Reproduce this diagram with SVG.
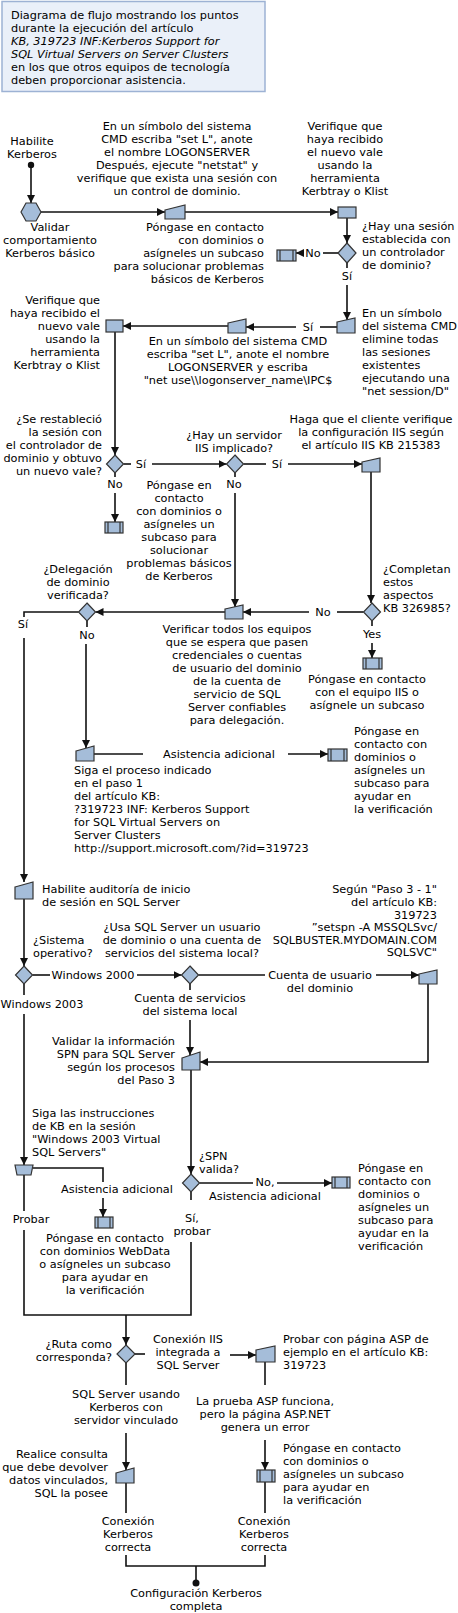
<svg xmlns="http://www.w3.org/2000/svg" width="458" height="1613" viewBox="0 0 458 1613">
<style>
text{font-family:"DejaVu Sans",Verdana,sans-serif;font-size:11.3px;fill:#000}
.c{text-anchor:middle}
.e{text-anchor:end}
.i{font-style:italic}
.s{fill:#a5bdd9;stroke:#333;stroke-width:1.2}
.l{fill:none;stroke:#111;stroke-width:1.6}
.a{marker-end:url(#ah)}
.in{stroke:#333;stroke-width:1.2}
</style>
<defs>
<marker id="ah" markerUnits="userSpaceOnUse" markerWidth="9" markerHeight="8" refX="8" refY="4" orient="auto"><path d="M0,0 L8,4 L0,8 z" fill="#111"/></marker>
</defs>
<rect x="0" y="0" width="458" height="1613" fill="#fff"/>
<g id="title">
<rect x="2" y="1.5" width="263" height="90" fill="#eaf0f9" stroke="#9db2d4" stroke-width="1.5"/>
<text x="11" y="19">Diagrama de flujo mostrando los puntos</text>
<text x="11" y="32">durante la ejecución del artículo</text>
<text x="11" y="45" class="i">KB, 319723 INF:Kerberos Support for</text>
<text x="11" y="58" class="i">SQL Virtual Servers on Server Clusters</text>
<text x="11" y="71">en los que otros equipos de tecnología</text>
<text x="11" y="84">deben proporcionar asistencia.</text>
</g>
<g id="connectors">
<circle cx="31" cy="165" r="3.2" fill="#111"/>
<path class="l a" d="M31,166 V203"/>
<path class="l a" d="M41,212 H165"/>
<path class="l a" d="M185,212 H338"/>
<path class="l a" d="M347,218 V243"/>
<path class="l" d="M338,253 H323"/>
<text x="313" y="257" class="c">No</text>
<path class="l a" d="M304,253 H296"/>
<path class="l" d="M347,263 V268"/>
<text x="347" y="280" class="c">Sí</text>
<path class="l a" d="M347,285 V320"/>
<path class="l" d="M337,327 H320"/>
<text x="308" y="331" class="c">Sí</text>
<path class="l a" d="M296,327 H246"/>
<path class="l a" d="M228,326 H123"/>
<path class="l a" d="M115,332 V455"/>
<path class="l" d="M123.5,464 H131"/>
<text x="141" y="468" class="c">Sí</text>
<path class="l a" d="M152,464 H226.5"/>
<path class="l" d="M243.5,464 H266"/>
<text x="277" y="468" class="c">Sí</text>
<path class="l a" d="M288,464 H362"/>
<path class="l" d="M115,473 V477"/>
<text x="115" y="488" class="c">No</text>
<path class="l a" d="M115,493 V522"/>
<path class="l" d="M235,473 V477"/>
<text x="234" y="488" class="c">No</text>
<path class="l a" d="M235,493 V607"/>
<path class="l a" d="M371,472 V603"/>
<path class="l" d="M363.5,612 H337"/>
<text x="323" y="616" class="c">No</text>
<path class="l a" d="M309,612 H243"/>
<path class="l" d="M372,621 V626"/>
<text x="372" y="638" class="c">Yes</text>
<path class="l a" d="M372,643 V658"/>
<path class="l a" d="M225,612 H95.5"/>
<path class="l" d="M78.5,612 H24 V617"/>
<text x="23" y="628" class="c">Sí</text>
<path class="l a" d="M24,638 V882"/>
<path class="l" d="M87,621 V627"/>
<text x="87" y="639" class="c">No</text>
<path class="l a" d="M86,644 V748"/>
<path class="l" d="M94,754 H143"/>
<text x="219" y="758" class="c">Asistencia adicional</text>
<path class="l a" d="M288,754 H328"/>
<path class="l a" d="M24,899 V966"/>
<path class="l" d="M32.5,975 H50"/>
<text x="93" y="979" class="c">Windows 2000</text>
<path class="l a" d="M137,975 H181.5"/>
<path class="l" d="M198.5,975 H265"/>
<text x="320" y="979" class="c">Cuenta de usuario</text>
<text x="320" y="992" class="c">del dominio</text>
<path class="l a" d="M376,975 H419"/>
<path class="l a" d="M428,984 V1062 H200"/>
<path class="l" d="M190,984 V990"/>
<text x="190" y="1002" class="c">Cuenta de servicios</text>
<text x="190" y="1015" class="c">del sistema local</text>
<path class="l a" d="M190,1020 V1055"/>
<path class="l a" d="M191,1070 V1174"/>
<path class="l" d="M24,984 V995"/>
<text x="42" y="1008" class="c">Windows 2003</text>
<path class="l a" d="M24,1014 V1165"/>
<path class="l" d="M33,1168 H103 V1182"/>
<text x="117" y="1193" class="c">Asistencia adicional</text>
<path class="l a" d="M103,1198 V1217"/>
<path class="l" d="M199.5,1183 H253"/>
<text x="265" y="1186" class="c">No,</text>
<text x="265" y="1200" class="c">Asistencia adicional</text>
<path class="l a" d="M277,1183 H332"/>
<path class="l" d="M191,1192 V1200"/>
<text x="192" y="1222" class="c">Sí,</text>
<text x="192" y="1235" class="c">probar</text>
<path class="l" d="M191,1242 V1315 H24 V1230"/>
<path class="l" d="M24,1175 V1211"/>
<text x="31" y="1223" class="c">Probar</text>
<path class="l a" d="M126,1315 V1345"/>
<path class="l" d="M135,1354 H145"/>
<text x="188" y="1343" class="c">Conexión IIS</text>
<text x="188" y="1356" class="c">integrada a</text>
<text x="188" y="1369" class="c">SQL Server</text>
<path class="l a" d="M230,1355 H256"/>
<path class="l" d="M265,1362 V1385"/>
<text x="265" y="1405" class="c">La prueba ASP funciona,</text>
<text x="265" y="1418" class="c">pero la página ASP.NET</text>
<text x="265" y="1431" class="c">genera un error</text>
<path class="l a" d="M265,1440 V1470"/>
<path class="l" d="M126,1363 V1385"/>
<text x="126" y="1398" class="c">SQL Server usando</text>
<text x="126" y="1411" class="c">Kerberos con</text>
<text x="126" y="1424" class="c">servidor vinculado</text>
<path class="l a" d="M126,1433 V1470"/>
<path class="l" d="M126,1483 V1513"/>
<path class="l" d="M265,1482 V1513"/>
<text x="128" y="1525" class="c">Conexión</text>
<text x="128" y="1538" class="c">Kerberos</text>
<text x="128" y="1551" class="c">correcta</text>
<text x="264" y="1525" class="c">Conexión</text>
<text x="264" y="1538" class="c">Kerberos</text>
<text x="264" y="1551" class="c">correcta</text>
<path class="l" d="M126,1555 V1566 H265 V1555"/>
<path class="l" d="M196,1566 V1582"/>
<circle cx="196" cy="1583" r="3.5" fill="#111"/>
<text x="196" y="1597" class="c">Configuración Kerberos</text>
<text x="196" y="1610" class="c">completa</text>
</g>
<g id="start">
<text x="32" y="145" class="c">Habilite</text>
<text x="32" y="158" class="c">Kerberos</text>
</g>
<g id="validar">
<polygon class="s" points="21,212 26,203 36,203 41,212 36,221 26,221"/>
<text x="50" y="231" class="c">Validar</text>
<text x="50" y="244" class="c">comportamiento</text>
<text x="50" y="257" class="c">Kerberos básico</text>
</g>
<g id="cmd1">
<polygon class="s" points="165,210 185,205 185,219 165,219"/>
<text x="177" y="130" class="c">En un símbolo del sistema</text>
<text x="177" y="143" class="c">CMD escriba "set L", anote</text>
<text x="177" y="156" class="c">el nombre LOGONSERVER</text>
<text x="177" y="169" class="c">Después, ejecute "netstat" y</text>
<text x="177" y="182" class="c">verifique que exista una sesión con</text>
<text x="177" y="195" class="c">un control de dominio.</text>
</g>
<g id="vale1">
<rect class="s" x="338" y="207" width="18" height="11"/>
<text x="345" y="130" class="c">Verifique que</text>
<text x="345" y="143" class="c">haya recibido</text>
<text x="345" y="156" class="c">el nuevo vale</text>
<text x="345" y="169" class="c">usando la</text>
<text x="345" y="182" class="c">herramienta</text>
<text x="345" y="195" class="c">Kerbtray o Klist</text>
</g>
<g id="sesion">
<polygon class="s" points="347,243 356,253 347,263 338,253"/>
<text x="362" y="230">¿Hay una sesión</text>
<text x="362" y="243">establecida con</text>
<text x="362" y="256">un controlador</text>
<text x="362" y="269">de dominio?</text>
</g>
<g id="sub1">
<rect class="s" x="277" y="250" width="19" height="11"/>
<path class="in" d="M280,250 V261 M293,250 V261"/>
<text x="264" y="231" class="e">Póngase en contacto</text>
<text x="264" y="244" class="e">con dominios o</text>
<text x="264" y="257" class="e">asígneles un subcaso</text>
<text x="264" y="270" class="e">para solucionar problemas</text>
<text x="264" y="283" class="e">básicos de Kerberos</text>
</g>
<g id="eliminar">
<polygon class="s" points="337,322 355,318 355,333 337,333"/>
<text x="362" y="317">En un símbolo</text>
<text x="362" y="330">del sistema CMD</text>
<text x="362" y="343">elimine todas</text>
<text x="362" y="356">las sesiones</text>
<text x="362" y="369">existentes</text>
<text x="362" y="382">ejecutando una</text>
<text x="362" y="395">"net session/D"</text>
</g>
<g id="netuse">
<polygon class="s" points="228,323 246,319 246,333 228,333"/>
<text x="238" y="345" class="c">En un símbolo del sistema CMD</text>
<text x="238" y="358" class="c">escriba "set L", anote el nombre</text>
<text x="238" y="371" class="c">LOGONSERVER y escriba</text>
<text x="238" y="384" class="c">"net use\\logonserver_name\IPC$</text>
</g>
<g id="vale2">
<rect class="s" x="106" y="320" width="17" height="12"/>
<text x="100" y="304" class="e">Verifique que</text>
<text x="100" y="317" class="e">haya recibido el</text>
<text x="100" y="330" class="e">nuevo vale</text>
<text x="100" y="343" class="e">usando la</text>
<text x="100" y="356" class="e">herramienta</text>
<text x="100" y="369" class="e">Kerbtray o Klist</text>
</g>
<g id="restablecio">
<polygon class="s" points="115,455 123.5,464 115,473 106.5,464"/>
<text x="102" y="423" class="e">¿Se restableció</text>
<text x="102" y="436" class="e">la sesión con</text>
<text x="102" y="449" class="e">el controlador de</text>
<text x="102" y="462" class="e">dominio y obtuvo</text>
<text x="102" y="475" class="e">un nuevo vale?</text>
</g>
<g id="sub2">
<rect class="s" x="105" y="522" width="18" height="11"/>
<path class="in" d="M108,522 V533 M120,522 V533"/>
</g>
<g id="iis">
<polygon class="s" points="235,455 243.5,464 235,473 226.5,464"/>
<text x="234" y="439" class="c">¿Hay un servidor</text>
<text x="234" y="452" class="c">IIS implicado?</text>
</g>
<g id="sub3text">
<text x="179" y="489" class="c">Póngase en</text>
<text x="179" y="502" class="c">contacto</text>
<text x="179" y="515" class="c">con dominios o</text>
<text x="179" y="528" class="c">asígneles un</text>
<text x="179" y="541" class="c">subcaso para</text>
<text x="179" y="554" class="c">solucionar</text>
<text x="179" y="567" class="c">problemas básicos</text>
<text x="179" y="580" class="c">de Kerberos</text>
</g>
<g id="iisconfig">
<polygon class="s" points="362,462 380,458 380,472 362,472"/>
<text x="371" y="423" class="c">Haga que el cliente verifique</text>
<text x="371" y="436" class="c">la configuración IIS según</text>
<text x="371" y="449" class="c">el artículo IIS KB 215383</text>
</g>
<g id="completan">
<polygon class="s" points="372,603 380.5,612 372,621 363.5,612"/>
<text x="383" y="573">¿Completan</text>
<text x="383" y="586">estos</text>
<text x="383" y="599">aspectos</text>
<text x="383" y="612">KB 326985?</text>
</g>
<g id="sub4">
<rect class="s" x="363" y="658" width="19" height="11"/>
<path class="in" d="M366,658 V669 M379,658 V669"/>
<text x="367" y="683" class="c">Póngase en contacto</text>
<text x="367" y="696" class="c">con el equipo IIS o</text>
<text x="367" y="709" class="c">asígnele un subcaso</text>
</g>
<g id="verificar">
<polygon class="s" points="225,609 243,605 243,619 225,619"/>
<text x="237" y="633" class="c">Verificar todos los equipos</text>
<text x="237" y="646" class="c">que se espera que pasen</text>
<text x="237" y="659" class="c">credenciales o cuentas</text>
<text x="237" y="672" class="c">de usuario del dominio</text>
<text x="237" y="685" class="c">de la cuenta de</text>
<text x="237" y="698" class="c">servicio de SQL</text>
<text x="237" y="711" class="c">Server confiables</text>
<text x="237" y="724" class="c">para delegación.</text>
</g>
<g id="delegacion">
<polygon class="s" points="87,603 95.5,612 87,621 78.5,612"/>
<text x="78" y="573" class="c">¿Delegación</text>
<text x="78" y="586" class="c">de dominio</text>
<text x="78" y="599" class="c">verificada?</text>
</g>
<g id="proceso">
<polygon class="s" points="76,751 94,746 94,761 76,761"/>
<text x="74" y="774">Siga el proceso indicado</text>
<text x="74" y="787">en el paso 1</text>
<text x="74" y="800">del artículo KB:</text>
<text x="74" y="813">?319723 INF: Kerberos Support</text>
<text x="74" y="826">for SQL Virtual Servers on</text>
<text x="74" y="839">Server Clusters</text>
<text x="74" y="852">http://support.microsoft.com/?id=319723</text>
</g>
<g id="sub5">
<rect class="s" x="328" y="749" width="19" height="12"/>
<path class="in" d="M331,749 V761 M344,749 V761"/>
<text x="354" y="735">Póngase en</text>
<text x="354" y="748">contacto con</text>
<text x="354" y="761">dominios o</text>
<text x="354" y="774">asígneles un</text>
<text x="354" y="787">subcaso para</text>
<text x="354" y="800">ayudar en</text>
<text x="354" y="813">la verificación</text>
</g>
<g id="auditoria">
<polygon class="s" points="15,887 33,882 33,899 15,899"/>
<text x="42" y="893">Habilite auditoría de inicio</text>
<text x="42" y="906">de sesión en SQL Server</text>
</g>
<g id="setspn">
<polygon class="s" points="419,974 437,970 437,984 419,984"/>
<text x="437" y="893" class="e">Según "Paso 3 - 1"</text>
<text x="437" y="906" class="e">del artículo KB:</text>
<text x="437" y="919" class="e">319723</text>
<text x="437" y="931" class="e">”setspn -A MSSQLSvc/</text>
<text x="437" y="944" class="e">SQLBUSTER.MYDOMAIN.COM</text>
<text x="437" y="956" class="e">SQLSVC"</text>
</g>
<g id="sistema">
<polygon class="s" points="24,966 32.5,975 24,984 15.5,975"/>
<text x="33" y="944">¿Sistema</text>
<text x="33" y="957">operativo?</text>
</g>
<g id="cuenta">
<polygon class="s" points="190,966 198.5,975 190,984 181.5,975"/>
<text x="182" y="931" class="c">¿Usa SQL Server un usuario</text>
<text x="182" y="944" class="c">de dominio o una cuenta de</text>
<text x="182" y="957" class="c">servicios del sistema local?</text>
</g>
<g id="spn">
<polygon class="s" points="182,1058 200,1052 200,1070 182,1070"/>
<text x="175" y="1045" class="e">Validar la información</text>
<text x="175" y="1058" class="e">SPN para SQL Server</text>
<text x="175" y="1071" class="e">según los procesos</text>
<text x="175" y="1084" class="e">del Paso 3</text>
</g>
<g id="win2003">
<polygon class="s" points="15,1165 33,1165 31,1175 17,1175"/>
<text x="32" y="1117">Siga las instrucciones</text>
<text x="32" y="1130">de KB en la sesión</text>
<text x="32" y="1143">"Windows 2003 Virtual</text>
<text x="32" y="1156">SQL Servers"</text>
</g>
<g id="spnvalida">
<polygon class="s" points="191,1174 199.5,1183 191,1192 182.5,1183"/>
<text x="199" y="1160">¿SPN</text>
<text x="199" y="1173">valida?</text>
</g>
<g id="sub6">
<rect class="s" x="332" y="1177" width="18" height="11"/>
<path class="in" d="M335,1177 V1188 M347,1177 V1188"/>
<text x="358" y="1172">Póngase en</text>
<text x="358" y="1185">contacto con</text>
<text x="358" y="1198">dominios o</text>
<text x="358" y="1211">asígneles un</text>
<text x="358" y="1224">subcaso para</text>
<text x="358" y="1237">ayudar en la</text>
<text x="358" y="1250">verificación</text>
</g>
<g id="sub7">
<rect class="s" x="95" y="1217" width="18" height="11"/>
<path class="in" d="M98,1217 V1228 M110,1217 V1228"/>
<text x="105" y="1242" class="c">Póngase en contacto</text>
<text x="105" y="1255" class="c">con dominios WebData</text>
<text x="105" y="1268" class="c">o asígneles un subcaso</text>
<text x="105" y="1281" class="c">para ayudar en</text>
<text x="105" y="1294" class="c">la verificación</text>
</g>
<g id="ruta">
<polygon class="s" points="126,1345 135,1354 126,1363 117,1354"/>
<text x="112" y="1348" class="e">¿Ruta como</text>
<text x="112" y="1361" class="e">corresponda?</text>
</g>
<g id="asp">
<polygon class="s" points="256,1350 275,1346 275,1362 256,1362"/>
<text x="283" y="1343">Probar con página ASP de</text>
<text x="283" y="1356">ejemplo en el artículo KB:</text>
<text x="283" y="1369">319723</text>
</g>
<g id="sub8">
<rect class="s" x="257" y="1470" width="18" height="12"/>
<path class="in" d="M260,1470 V1482 M272,1470 V1482"/>
<text x="283" y="1452">Póngase en contacto</text>
<text x="283" y="1465">con dominios o</text>
<text x="283" y="1478">asígneles un subcaso</text>
<text x="283" y="1491">para ayudar en</text>
<text x="283" y="1504">la verificación</text>
</g>
<g id="consulta">
<polygon class="s" points="116,1473 134,1468 134,1483 116,1483"/>
<text x="108" y="1458" class="e">Realice consulta</text>
<text x="108" y="1471" class="e">que debe devolver</text>
<text x="108" y="1484" class="e">datos vinculados,</text>
<text x="108" y="1497" class="e">SQL la posee</text>
</g>
</svg>
